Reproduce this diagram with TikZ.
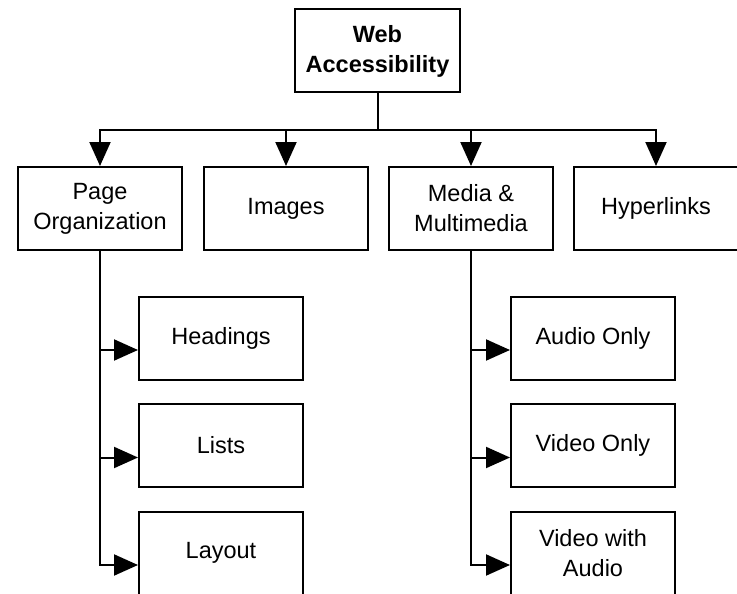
\documentclass[tikz,border=0pt]{standalone}
\usepackage{fontspec}
\setmainfont{Liberation Sans}
\usepackage{tikz}
\usetikzlibrary{arrows.meta}
\tikzset{
    block/.style = {
        draw,
        shape=rectangle,
        minimum height=83pt,
        minimum width=164pt,
        line width=2pt,
        align=center,
        font=\fontsize{23.5}{30}\selectfont
    },
    arr/.style = {
        line width=2pt,
        -{Triangle[length=24pt,width=21pt]}
    },
}
\begin{document}
\begin{tikzpicture}[x=1pt, y=-1pt]
    \clip (0,0) rectangle (737,594);

    \node[block, minimum width=165pt] (web) at (377.5,51) {\textbf{Web}\\\textbf{Accessibility}};

    \node[block] (page) at (100,208.5) {Page\\Organization};
    \node[block] (img) at (286,208.5) {Images};
    \node[block] (media) at (471,208.5) {Media \&\\Multimedia};
    \node[block] (link) at (656,208.5) {Hyperlinks};

    \node[block] (head) at (221,338) {Headings};
    \node[block] (list) at (221,445.5) {Lists};
    \node[block] (lay) at (221,553) {Layout};

    \node[block] (aud) at (593,338) {Audio Only};
    \node[block] (vid) at (593,445.5) {Video Only};
    \node[block] (vidaud) at (593,553) {Video with\\Audio};

    \coordinate (bus) at (377.5,130);

    \draw[line width=2pt] (web) -- (bus);
    \draw[arr] (bus) -| (page);
    \draw[arr] (bus) -| (img);
    \draw[arr] (bus) -| (media);
    \draw[arr] (bus) -| (link);

    \draw[arr] (page) |- ([yshift=-12pt]head.west);
    \draw[arr] (page) |- ([yshift=-12pt]list.west);
    \draw[arr] (page) |- ([yshift=-12pt]lay.west);

    \draw[arr] (media) |- ([yshift=-12pt]aud.west);
    \draw[arr] (media) |- ([yshift=-12pt]vid.west);
    \draw[arr] (media) |- ([yshift=-12pt]vidaud.west);
\end{tikzpicture}
\end{document}
